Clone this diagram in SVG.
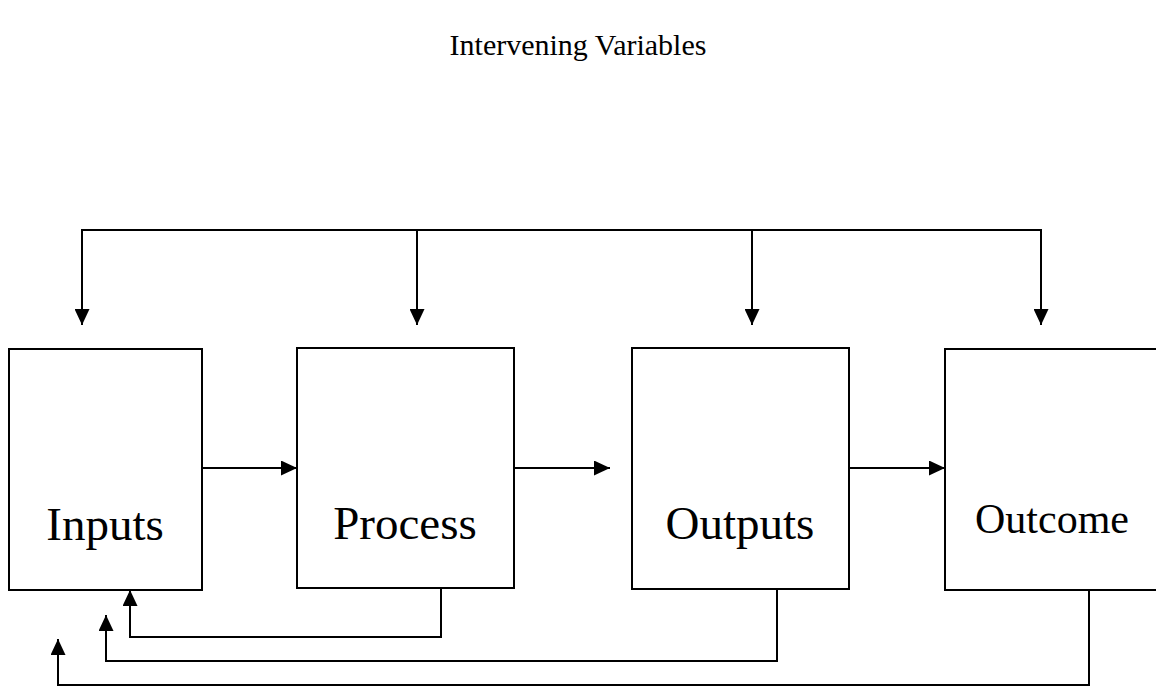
<svg xmlns="http://www.w3.org/2000/svg" width="1156" height="686" viewBox="0 0 1156 686">
  <style>
    .box { fill: #ffffff; stroke: #000000; stroke-width: 2; }
    .line { fill: none; stroke: #000000; stroke-width: 2; }
    .arrow { fill: none; stroke: #000000; stroke-width: 2; marker-end: url(#head); }
    .lbl { font-family: "Liberation Serif", "Times New Roman", serif; fill: #000000; text-anchor: middle; }
  </style>
  <defs>
    <marker id="head" markerUnits="userSpaceOnUse" markerWidth="16" markerHeight="15" refX="16" refY="7.5" orient="auto">
      <path d="M0,0 L16,7.5 L0,15 Z" fill="#000000"/>
    </marker>
  </defs>
  <rect width="1156" height="686" fill="#ffffff"/>
  <text id="title" class="lbl" x="578" y="55" font-size="30">Intervening Variables</text>
  <g id="connectors">
    <line class="line" x1="81" y1="230" x2="1042" y2="230"/>
    <line class="arrow" x1="82" y1="230" x2="82" y2="325"/>
    <line class="arrow" x1="417" y1="230" x2="417" y2="325"/>
    <line class="arrow" x1="752" y1="230" x2="752" y2="325"/>
    <line class="arrow" x1="1041" y1="230" x2="1041" y2="325"/>
    <line class="arrow" x1="202" y1="468" x2="297" y2="468"/>
    <line class="arrow" x1="514" y1="468" x2="610" y2="468"/>
    <line class="arrow" x1="849" y1="468" x2="945" y2="468"/>
    <path class="arrow" d="M441,588 V637 H130 V590"/>
    <path class="arrow" d="M777,589 V661 H106 V615"/>
    <path class="arrow" d="M1089,590 V685 H58 V639"/>
  </g>
  <g id="inputs">
    <rect class="box" x="9" y="349" width="193" height="241"/>
    <text class="lbl" x="105" y="540" font-size="47">Inputs</text>
  </g>
  <g id="process">
    <rect class="box" x="297" y="348" width="217" height="240"/>
    <text class="lbl" x="405" y="539" font-size="47">Process</text>
  </g>
  <g id="outputs">
    <rect class="box" x="632" y="348" width="217" height="241"/>
    <text class="lbl" x="740" y="539" font-size="47">Outputs</text>
  </g>
  <g id="outcome">
    <rect class="box" x="945" y="349" width="215" height="241"/>
    <text class="lbl" x="1052" y="533" font-size="42">Outcome</text>
  </g>
</svg>
